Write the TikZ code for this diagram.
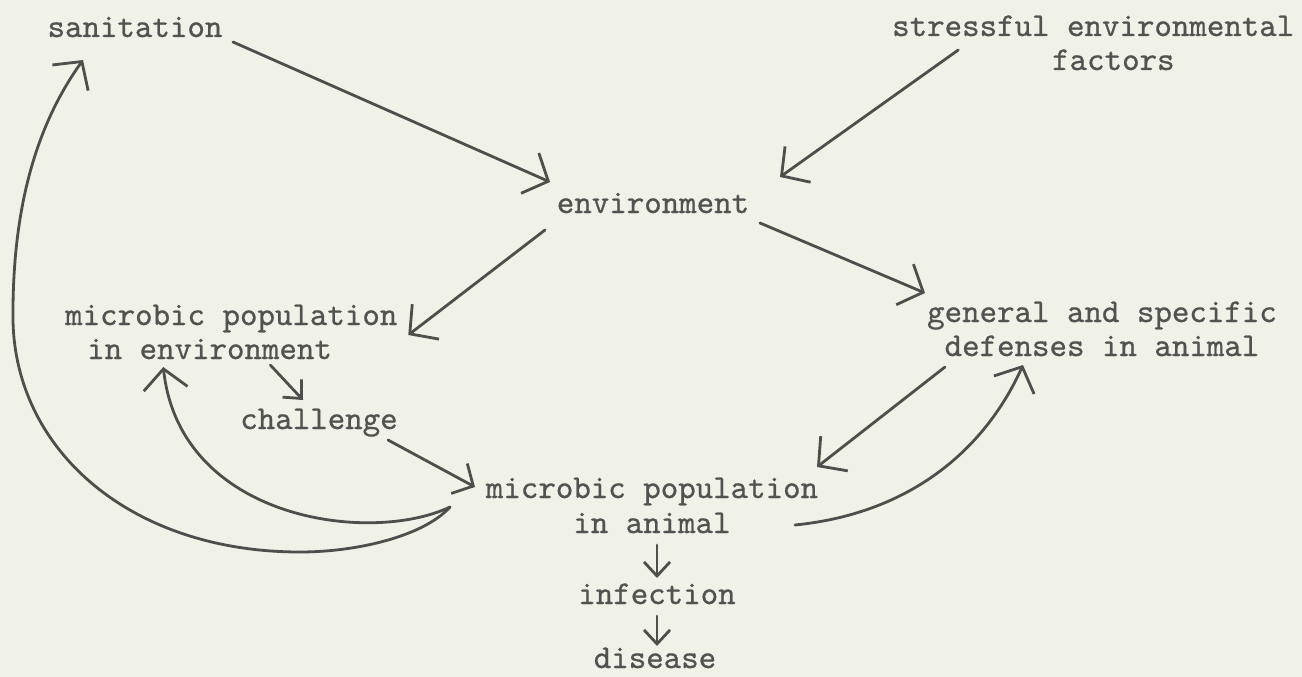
\documentclass[tikz,border=0pt]{standalone}
\usepackage{fontspec}
\newfontfamily\typer{lmmono10-regular.otf}[FakeBold=0.7]
\usetikzlibrary{arrows.meta}
\definecolor{bg}{RGB}{240,242,231}
\definecolor{ink}{RGB}{78,78,76}
\definecolor{txt}{RGB}{82,82,80}
\begin{document}
\begin{tikzpicture}[x=1pt,y=-1pt,
  lbl/.style={inner sep=0pt, text=txt, font=\fontsize{33.3}{34}\selectfont\typer},
  con/.style={draw=ink, line width=2.8pt, line cap=round, line join=round},
  bigarrow/.style={con, -{Straight Barb[length=20pt,width=44pt]}},
  medarrow/.style={con, -{Straight Barb[length=16pt,width=34pt]}},
  smallarrow/.style={con, -{Straight Barb[length=14pt,width=26pt]}}]
\fill[bg] (0,0) rectangle (1302,677);
\useasboundingbox (0,0) rectangle (1302,677);

\node[lbl, anchor=base] (san) at (135,37) {sanitation};
\node[lbl, anchor=base west] (stress) at (892,36)
  {\begin{tabular}[t]{@{}l@{}}stressful environmental\\\hspace*{160pt}factors\end{tabular}};
\node[lbl, anchor=base] (env) at (653,213) {environment};
\node[lbl, anchor=base west] (menv) at (65,325)
  {\begin{tabular}[t]{@{}l@{}}microbic population\\\hspace*{22pt}in environment\end{tabular}};
\node[lbl, anchor=base] (gen) at (1102,322)
  {\begin{tabular}[t]{@{}c@{}}general and specific\\defenses in animal\end{tabular}};
\node[lbl, anchor=base] (chal) at (319,429) {challenge};
\node[lbl, anchor=base] (manim) at (652,498)
  {\begin{tabular}[t]{@{}c@{}}microbic population\\[1pt]in animal\end{tabular}};
\node[lbl, anchor=base] (inf) at (657,604) {infection};
\node[lbl, anchor=base] (dis) at (655,668) {disease};

% straight connectors
\draw[bigarrow] ([shift={(98,5)}]san.base) -- ([shift={(-103,-31)}]env.base);
\draw[bigarrow] ([shift={(-135,14)}]stress.base) -- ([shift={(127,-36)}]env.base);
\draw[bigarrow] ([shift={(-108,17)}]env.base) -- ([shift={(177,10)}]menv.base);
\draw[bigarrow] ([shift={(107,10)}]env.base) -- ([shift={(-177,-29)}]gen.base);
\draw[smallarrow] ([shift={(39,40)}]menv.base) -- ([shift={(-16,-29)}]chal.base);
\draw[medarrow] ([shift={(69,11)}]chal.base) -- ([shift={(-177,-11)}]manim.base);
\draw[bigarrow] ([shift={(-157,45)}]gen.base) -- ([shift={(165,-31)}]manim.base);
\draw[smallarrow] ([shift={(5,47)}]manim.base) -- ([shift={(0,-26)}]inf.base);
\draw[smallarrow] ([shift={(0,12)}]inf.base) -- ([shift={(2,-22)}]dis.base);

% curved connectors
\draw[bigarrow] ([shift={(143,27)}]manim.base) .. controls (915,513) and (987,445) .. ([shift={(-79,43)}]gen.base);
\draw[bigarrow] ([shift={(-202,9)}]manim.base) .. controls (370,545) and (180,520) .. ([shift={(-68,42)}]menv.base);
\draw[bigarrow] ([shift={(-202,9)}]manim.base) .. controls (425,535) and (360,552) .. (300,552)
  .. controls (130,552) and (15,450) .. (13,320)
  .. controls (12,200) and (40,120) .. ([shift={(-52,23)}]san.base);
\end{tikzpicture}
\end{document}
